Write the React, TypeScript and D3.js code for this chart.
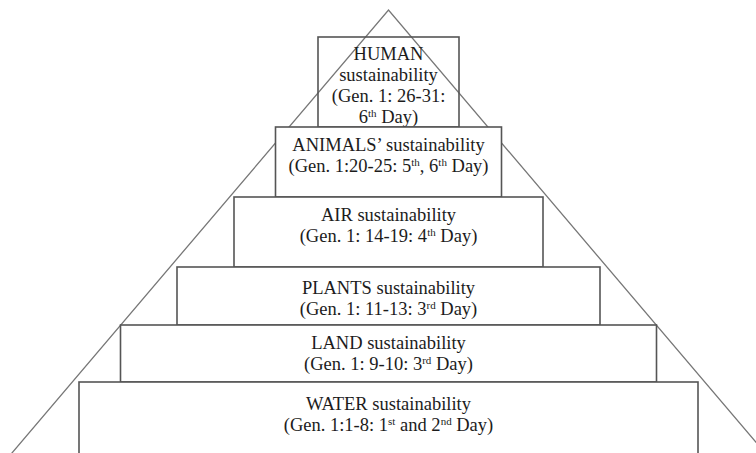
import React from 'react';
import * as d3 from 'd3';

// Pyramid levels, top to bottom
const levels = ['HUMAN', 'ANIMALS', 'AIR', 'PLANTS', 'LAND', 'WATER'];

// Label lines for each level ("^xx" marks a superscript)
const labelLines: string[][] = [
  ['HUMAN', 'sustainability', '(Gen. 1: 26-31:', '6^th Day)'],
  ['ANIMALS\u2019 sustainability', '(Gen. 1:20-25: 5^th, 6^th Day)'],
  ['AIR sustainability', '(Gen. 1: 14-19: 4^th Day)'],
  ['PLANTS  sustainability', '(Gen. 1: 11-13: 3^rd Day)'],
  ['LAND sustainability', '(Gen. 1: 9-10: 3^rd Day)'],
  ['WATER sustainability', '(Gen. 1:1-8: 1^st and 2^nd Day)'],
];

// Layout of the boxes (pixels)
const boxTops = [37, 127, 197, 267, 325, 382];
const boxBottoms = [127, 197, 267, 325, 382, 470];
const boxWidths = [141, 226, 309, 423, 536, 619];
const textOffsets = [23, 24, 24, 27, 24, 28];

const W = 756;
const H = 453;
const cx = 388.5;
const lineGap = 21;
const fontSize = 18.5;
const serif = '"Liberation Serif", "Times New Roman", Times, serif';

// split "6^th Day)" into [{t:'6'}, {t:'th', sup:true}, {t:' Day)'}]
const parseLine = (s: string) => {
  const parts: { t: string; sup: boolean }[] = [];
  s.split(/(\^[a-z]+)/).forEach(p => {
    if (!p) return;
    if (p[0] === '^') parts.push({ t: p.slice(1), sup: true });
    else parts.push({ t: p, sup: false });
  });
  return parts;
};

const App = () => {
  // triangle sides: apex and base points
  const slope = 0.85;
  const apexY = 10;
  const tri = d3.line()([
    [cx - slope * (H - apexY + 10), H + 10],
    [cx, apexY],
    [cx + slope * (H - apexY + 10), H + 10],
  ]);

  const y = d3.scaleOrdinal<string, number>().domain(levels).range(boxTops);

  return (
    <div style={{ position: 'absolute', left: 0, top: 0 }}>
      <svg width={W} height={H} style={{ display: 'block', background: '#fff', fontFamily: serif }}>
        <path d={tri || ''} fill="none" stroke="#777" strokeWidth={1.3} />
        {levels.map((name, i) => {
          const top = y(name);
          const w = boxWidths[i];
          return (
            <g key={name}>
              <rect
                x={cx - w / 2}
                y={top}
                width={w}
                height={boxBottoms[i] - top}
                fill={i === 0 ? 'none' : '#fff'}
                stroke="#555"
                strokeWidth={1.6}
              />
              <text
                textAnchor="middle"
                style={{ fontFamily: serif, fontSize: fontSize }}
                fill="#1c1c1c"
              >
                {labelLines[i].map((ln, j) => {
                  const parts = parseLine(ln);
                  return (
                    <tspan key={j} x={cx} y={top + textOffsets[i] + j * lineGap}>
                      {parts.map((p, k) =>
                        p.sup ? (
                          <tspan key={k} style={{ fontSize: 11 }} dy={-6}>{p.t}</tspan>
                        ) : (
                          <tspan key={k} dy={k > 0 && parts[k - 1].sup ? 6 : 0}>{p.t}</tspan>
                        )
                      )}
                    </tspan>
                  );
                })}
              </text>
            </g>
          );
        })}
      </svg>
    </div>
  );
};

export default App;
